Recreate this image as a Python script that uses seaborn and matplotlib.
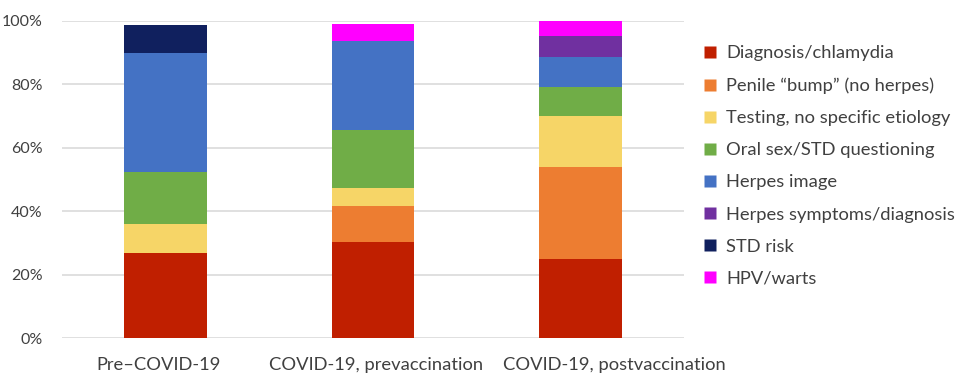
import matplotlib
matplotlib.use("Agg")
import matplotlib.pyplot as plt
import matplotlib.transforms as mtransforms
import seaborn as sns
import pandas as pd
from matplotlib.lines import Line2D

periods = ["Pre\u2013COVID-19", "COVID-19, prevaccination", "COVID-19, postvaccination"]
categories = ["Diagnosis/chlamydia", "Penile \u201cbump\u201d (no herpes)", "Testing, no specific etiology",
              "Oral sex/STD questioning", "Herpes image", "Herpes symptoms/diagnosis", "STD risk", "HPV/warts"]
diagnosis = [26.9, 30.2, 24.8]
penile_bump = [0.0, 11.3, 29.0]
testing = [9.2, 5.9, 16.2]
oral_sex = [16.3, 18.3, 9.1]
herpes_image = [37.5, 28.0, 9.4]
herpes_symptoms = [0.0, 0.0, 6.9]
std_risk = [8.8, 0.0, 0.0]
hpv_warts = [0.0, 5.4, 4.5]
series = [diagnosis, penile_bump, testing, oral_sex, herpes_image, herpes_symptoms, std_risk, hpv_warts]
colors = ["#C01F00", "#ED7D31", "#F6D567", "#70AD47", "#4472C4", "#7030A0", "#10205E", "#FF00FF"]

sns.set_style("white")
plt.rcParams["font.family"] = ["Lato", "DejaVu Sans"]

fig = plt.figure(figsize=(9.66, 3.83), dpi=100)
ax = fig.add_axes([62 / 966, 1 - 338 / 383, 622 / 966, 317 / 383])

bottom = [0.0, 0.0, 0.0]
for cat, vals, col in zip(categories, series, colors):
    df = pd.DataFrame({"period": periods, "value": vals})
    sns.barplot(data=df, x="period", y="value", order=periods, color=col, width=0.4,
                bottom=bottom, ax=ax, saturation=1, edgecolor="none", linewidth=0, zorder=3)
    bottom = [b + v for b, v in zip(bottom, vals)]

ax.set_ylim(0, 100)
ax.set_xlim(-0.5, 2.5)
ax.set_yticks([0, 20, 40, 60, 80, 100])
ax.set_yticklabels([f"{t}%" for t in [0, 20, 40, 60, 80, 100]])
ax.yaxis.grid(True, color="#DADADA", linewidth=1.2, zorder=0)
ax.set_axisbelow(True)
for s in ax.spines.values():
    s.set_visible(False)
ax.tick_params(axis="y", length=0, pad=14, labelsize=11.5, labelcolor="#404040")
ax.tick_params(axis="x", length=0, pad=14, labelsize=13.2, labelcolor="#404040")
ax.set_xlabel("")
ax.set_ylabel("")

# Excel-like label shifts to avoid overlap
shifts = [-7, 3, 34]
for lab, dx in zip(ax.get_xticklabels(), shifts):
    lab.set_transform(lab.get_transform() + mtransforms.ScaledTranslation(dx / 100, 0, fig.dpi_scale_trans))

handles = [Line2D([], [], marker="s", linestyle="none", markersize=8, markerfacecolor=c,
                  markeredgecolor="none") for c in colors]
fig.legend(handles, categories, loc="upper left", bbox_to_anchor=(693 / 966, 1 - 38 / 383),
           frameon=False, fontsize=13.2, labelcolor="#404040", handletextpad=0.4,
           labelspacing=0.88, borderaxespad=0, handlelength=1.0)

fig.savefig("out.png", dpi=100)
